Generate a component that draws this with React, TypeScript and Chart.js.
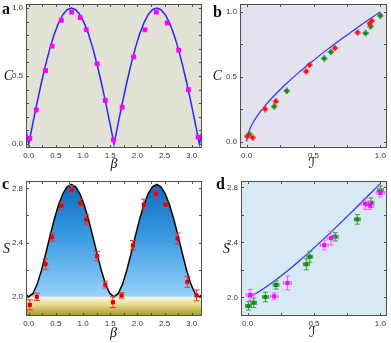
import React, { useEffect, useRef } from "react";
import { Chart, registerables } from "chart.js";

Chart.register(...registerables);

// ---------- theory curves vs beta (panels a, c) ----------
const BETA_GRID = [
  -0.0785, 0, 0.0785, 0.1571, 0.2356, 0.3142, 0.3927, 0.4712, 0.5498, 0.6283, 0.7069,
  0.7854, 0.8639, 0.9425, 1.021, 1.0996, 1.1781, 1.2566, 1.3352, 1.4137, 1.4923,
  1.5708, 1.6493, 1.7279, 1.8064, 1.885, 1.9635, 2.042, 2.1206, 2.1991, 2.2777,
  2.3562, 2.4347, 2.5133, 2.5918, 2.6704, 2.7489, 2.8274, 2.906, 2.9845, 3.0631,
  3.1416, 3.2201,
];
const C_THEORY = [
  0.1564, 0, 0.1564, 0.309, 0.454, 0.5878, 0.7071, 0.809, 0.891, 0.9511, 0.9877,
  1, 0.9877, 0.9511, 0.891, 0.809, 0.7071, 0.5878, 0.454, 0.309, 0.1564,
  0, 0.1564, 0.309, 0.454, 0.5878, 0.7071, 0.809, 0.891, 0.9511, 0.9877,
  1, 0.9877, 0.9511, 0.891, 0.809, 0.7071, 0.5878, 0.454, 0.309, 0.1564,
  0, 0.1564,
];
const S_THEORY = [
  2.0243, 2.0, 2.0243, 2.0933, 2.1965, 2.3199, 2.4495, 2.5726, 2.6787, 2.7601, 2.8111,
  2.8284, 2.8111, 2.7601, 2.6787, 2.5726, 2.4495, 2.3199, 2.1965, 2.0933, 2.0243,
  2.0, 2.0243, 2.0933, 2.1965, 2.3199, 2.4495, 2.5726, 2.6787, 2.7601, 2.8111,
  2.8284, 2.8111, 2.7601, 2.6787, 2.5726, 2.4495, 2.3199, 2.1965, 2.0933, 2.0243,
  2.0, 2.0243,
];

// ---------- theory curves vs I (panels b, d) ----------
const I_GRID = [0, 0.0015, 0.0114, 0.0252, 0.0454, 0.0808, 0.1414, 0.1944, 0.2864, 0.3843, 0.469, 0.6098, 0.7219, 0.8113, 0.8813, 0.9341, 0.971, 0.9928, 1];
const C_OF_I = [0, 0.02, 0.0632, 0.0999, 0.141, 0.199, 0.28, 0.341, 0.436, 0.527, 0.6, 0.714, 0.8, 0.866, 0.9165, 0.954, 0.98, 0.995, 1];
const S_OF_I = [2, 2.0004, 2.004, 2.01, 2.0198, 2.039, 2.077, 2.113, 2.182, 2.261, 2.332, 2.458, 2.561, 2.646, 2.713, 2.764, 2.8, 2.821, 2.828];

// ---------- panel a: measured C ----------
const A_BETA = [0.02, 0.14, 0.31, 0.43, 0.6, 0.79, 0.95, 1.06, 1.26, 1.41, 1.56, 1.72, 1.93, 2.14, 2.35, 2.55, 2.76, 2.94, 3.12];
const A_C = [0.04, 0.25, 0.54, 0.72, 0.91, 0.97, 0.93, 0.84, 0.59, 0.32, 0.03, 0.27, 0.64, 0.84, 0.97, 0.89, 0.69, 0.4, 0.05];

// ---------- panel c: measured S ----------
const C_BETA = [0.02, 0.15, 0.31, 0.43, 0.6, 0.79, 0.95, 1.06, 1.26, 1.41, 1.55, 1.71, 1.92, 2.12, 2.34, 2.52, 2.74, 2.92, 3.09];
const C_S = [1.94, 2.0, 2.24, 2.44, 2.67, 2.79, 2.69, 2.57, 2.3, 2.09, 1.96, 2.01, 2.38, 2.68, 2.76, 2.68, 2.43, 2.11, 2.01];
const C_S_ERR = [0.037, 0.027, 0.04, 0.03, 0.03, 0.03, 0.03, 0.035, 0.035, 0.025, 0.04, 0.02, 0.035, 0.04, 0.03, 0.02, 0.04, 0.04, 0.04];

// ---------- panel b: measured C vs I ----------
const B_RED_I = [0.005, 0.045, 0.138, 0.218, 0.445, 0.47, 0.66, 0.83, 0.92, 0.937];
const B_RED_C = [0.04, 0.03, 0.25, 0.31, 0.54, 0.59, 0.72, 0.84, 0.91, 0.93];
const B_GREEN_I = [0.02, 0.206, 0.3, 0.58, 0.63, 0.89, 0.927, 1.0];
const B_GREEN_C = [0.056, 0.27, 0.39, 0.64, 0.69, 0.835, 0.887, 0.97];

// ---------- panel d: measured S vs I ----------
const D_MAG_I = [0.02, 0.2, 0.3, 0.577, 0.628, 0.886, 0.921, 1.0];
const D_MAG_S = [2.017, 2.007, 2.104, 2.38, 2.43, 2.68, 2.67, 2.76];
const D_MAG_ERR = [0.04, 0.025, 0.05, 0.035, 0.05, 0.04, 0.03, 0.03];
const D_GRN_I = [0.006, 0.046, 0.134, 0.214, 0.442, 0.468, 0.66, 0.826, 0.929, 1.0];
const D_GRN_S = [1.937, 1.96, 2.002, 2.09, 2.24, 2.295, 2.44, 2.567, 2.688, 2.78];
const D_GRN_ERR = [0.03, 0.035, 0.035, 0.03, 0.04, 0.04, 0.03, 0.035, 0.035, 0.03];

// ---------- ticks ----------
const BETA_TICKS = [0, 0.25, 0.5, 0.75, 1, 1.25, 1.5, 1.75, 2, 2.25, 2.5, 2.75, 3];
const BETA_LABELS = [0, 0.5, 1, 1.5, 2, 2.5, 3];
const CA_TICKS = [0, 0.1, 0.2, 0.3, 0.4, 0.5, 0.6, 0.7, 0.8, 0.9, 1];
const CA_LABELS = [0, 0.5, 1];
const UNIT_TICKS = [0, 0.25, 0.5, 0.75, 1];
const UNIT_LABELS = [0, 0.5, 1];
const S_TICKS = [2, 2.2, 2.4, 2.6, 2.8];
const S_LABELS = [2, 2.4, 2.8];

const SERIF = '"Liberation Serif", "DejaVu Serif", serif';

function axis(min: number, max: number, ticks: number[], labels: number[], size: number, horizontal: boolean) {
  return {
    type: "linear",
    min,
    max,
    grid: { display: false, drawTicks: false },
    border: { display: false },
    ticks: {
      autoSkip: false,
      maxRotation: 0,
      minRotation: 0,
      padding: 3,
      color: "#333",
      font: { family: '"Liberation Sans", Arial, sans-serif', size: 8 },
      callback: (v: number) => (labels.includes(v) ? v.toFixed(1) : ""),
    },
    afterBuildTicks: (s: any) => {
      s.ticks = ticks.map((v) => ({ value: v }));
    },
    afterFit: (s: any) => {
      if (horizontal) s.height = size;
      else s.width = size;
      s.paddingLeft = 0;
      s.paddingRight = 0;
      s.paddingTop = 0;
      s.paddingBottom = 0;
    },
  };
}

const framePlugin = {
  id: "frame",
  beforeDraw(chart: any, _args: any, opts: any) {
    const { ctx, chartArea: a } = chart;
    if (opts && opts.bg) {
      ctx.save();
      ctx.fillStyle = opts.bg;
      ctx.fillRect(a.left, a.top, a.right - a.left, a.bottom - a.top);
      ctx.restore();
    }
  },
  beforeDatasetsDraw(chart: any, _args: any, opts: any) {
    if (!opts || !opts.band) return;
    const { ctx, chartArea: a, scales } = chart;
    const y0 = scales.y.getPixelForValue(opts.band);
    const g = ctx.createLinearGradient(0, y0, 0, a.bottom);
    g.addColorStop(0, "#fcf8de");
    g.addColorStop(0.45, "#e2d688");
    g.addColorStop(1, "#a29616");
    ctx.save();
    ctx.fillStyle = g;
    ctx.fillRect(a.left, y0, a.right - a.left, a.bottom - y0);
    ctx.restore();
  },
  afterDraw(chart: any) {
    const { ctx, chartArea: a, scales } = chart;
    ctx.save();
    ctx.strokeStyle = "#505050";
    ctx.lineWidth = 1;
    ctx.strokeRect(a.left + 0.5, a.top + 0.5, a.right - a.left - 1, a.bottom - a.top - 1);
    const L = 3;
    ctx.beginPath();
    for (const t of scales.x.ticks) {
      const px = Math.round(scales.x.getPixelForValue(t.value)) + 0.5;
      if (px <= a.left + 1 || px >= a.right - 1) continue;
      ctx.moveTo(px, a.bottom);
      ctx.lineTo(px, a.bottom - L);
      ctx.moveTo(px, a.top);
      ctx.lineTo(px, a.top + L);
    }
    for (const t of scales.y.ticks) {
      const py = Math.round(scales.y.getPixelForValue(t.value)) + 0.5;
      if (py <= a.top + 1 || py >= a.bottom - 1) continue;
      ctx.moveTo(a.left, py);
      ctx.lineTo(a.left + L, py);
      ctx.moveTo(a.right, py);
      ctx.lineTo(a.right - L, py);
    }
    ctx.stroke();
    ctx.restore();
  },
};

const errPlugin = {
  id: "errbars",
  beforeDatasetDraw(chart: any, args: any) {
    const ds: any = chart.data.datasets[args.index];
    if (ds.errY == null && ds.errX == null) return;
    const ctx = chart.ctx;
    const xs = chart.scales.x;
    const ys = chart.scales.y;
    const cap = ds.errCap || 0;
    ctx.save();
    ctx.strokeStyle = ds.errColor;
    ctx.lineWidth = ds.errWidth || 1;
    ctx.beginPath();
    ds.data.forEach((p: any, i: number) => {
      const px = xs.getPixelForValue(p.x);
      const py = ys.getPixelForValue(p.y);
      const ey = Array.isArray(ds.errY) ? ds.errY[i] : ds.errY || 0;
      const ex = Array.isArray(ds.errX) ? ds.errX[i] : ds.errX || 0;
      if (ey) {
        const y1 = ys.getPixelForValue(p.y - ey);
        const y2 = ys.getPixelForValue(p.y + ey);
        ctx.moveTo(px, y1);
        ctx.lineTo(px, y2);
        if (cap) {
          ctx.moveTo(px - cap, y1);
          ctx.lineTo(px + cap, y1);
          ctx.moveTo(px - cap, y2);
          ctx.lineTo(px + cap, y2);
        }
      }
      if (ex) {
        const x1 = xs.getPixelForValue(p.x - ex);
        const x2 = xs.getPixelForValue(p.x + ex);
        ctx.moveTo(x1, py);
        ctx.lineTo(x2, py);
        if (cap && ds.errCapX) {
          ctx.moveTo(x1, py - ds.errCapX);
          ctx.lineTo(x1, py + ds.errCapX);
          ctx.moveTo(x2, py - ds.errCapX);
          ctx.lineTo(x2, py + ds.errCapX);
        }
      }
    });
    ctx.stroke();
    ctx.restore();
  },
};

type Txt = { t: string; x: number; y: number; font: string; align?: CanvasTextAlign; base?: CanvasTextBaseline };

function textPlugin(id: string, texts: Txt[]) {
  return {
    id,
    afterDraw(chart: any) {
      const ctx = chart.ctx;
      ctx.save();
      ctx.fillStyle = "#111";
      for (const tx of texts) {
        ctx.font = tx.font;
        ctx.textAlign = tx.align || "center";
        ctx.textBaseline = tx.base || "middle";
        ctx.fillText(tx.t, tx.x, tx.y);
      }
      ctx.restore();
    },
  };
}

function pts(xs: number[], ys: number[]) {
  return xs.map((x, i) => ({ x, y: ys[i] }));
}

function baseOptions(pad: any, frame: any, xAxis: any, yAxis: any) {
  return {
    animation: false,
    responsive: false,
    devicePixelRatio: 1,
    events: [],
    layout: { padding: pad },
    plugins: { legend: { display: false }, tooltip: { enabled: false }, frame },
    scales: { x: xAxis, y: yAxis },
  };
}

function configA() {
  return {
    type: "line",
    data: {
      datasets: [
        { data: pts(A_BETA, A_C), showLine: false, pointStyle: "rect", pointRadius: 3.4, pointBorderWidth: 0, backgroundColor: "#ff00ff" },
        { data: pts(BETA_GRID, C_THEORY), pointRadius: 0, borderColor: "#2626ff", borderWidth: 1.5, tension: 0, fill: false },
      ],
    },
    options: baseOptions(
      { left: 0, top: 4, right: 1, bottom: 0 },
      { bg: "#e1e1d6" },
      axis(-0.05, 3.19, BETA_TICKS, BETA_LABELS, 24, true),
      axis(-0.03, 1.03, CA_TICKS, CA_LABELS, 26, false)
    ),
    plugins: [
      framePlugin,
      errPlugin,
      textPlugin("txtA", [
        { t: "a", x: 2, y: 13.5, font: `bold 16px ${SERIF}`, align: "left", base: "alphabetic" },
        { t: "C", x: 8.5, y: 76.5, font: `italic 14px ${SERIF}` },
        { t: "β", x: 114, y: 164, font: `italic 14px ${SERIF}` },
      ]),
    ],
  };
}

function configB() {
  return {
    type: "line",
    data: {
      datasets: [
        { data: pts(B_RED_I, B_RED_C), showLine: false, pointStyle: "rect", pointRadius: 2.6, pointBorderWidth: 0, backgroundColor: "#ff1010", errX: 0.024, errY: 0.026, errColor: "rgba(255,60,60,0.75)", errWidth: 2.2 },
        { data: pts(B_GREEN_I, B_GREEN_C), showLine: false, pointStyle: "rect", pointRadius: 2.6, pointBorderWidth: 0, backgroundColor: "#128a12", errX: 0.024, errY: 0.026, errColor: "rgba(40,150,40,0.75)", errWidth: 2.2 },
        { data: pts(I_GRID, C_OF_I), pointRadius: 0, borderColor: "#3030ff", borderWidth: 1.2, cubicInterpolationMode: "monotone", fill: false },
      ],
    },
    options: baseOptions(
      { left: 0, top: 4, right: 4, bottom: 0 },
      { bg: "#e3e3ef" },
      axis(-0.05, 1.05, UNIT_TICKS, UNIT_LABELS, 24, true),
      axis(-0.05, 1.06, UNIT_TICKS, UNIT_LABELS, 34, false)
    ),
    plugins: [
      framePlugin,
      errPlugin,
      textPlugin("txtB", [
        { t: "b", x: 7, y: 17, font: `bold 16px ${SERIF}`, align: "left", base: "alphabetic" },
        { t: "C", x: 11.5, y: 76.5, font: `italic 14px ${SERIF}` },
        { t: "ℐ", x: 106, y: 164.5, font: `15px "DejaVu Serif", "DejaVu Sans", serif` },
      ]),
    ],
  };
}

function configC() {
  return {
    type: "line",
    data: {
      datasets: [
        { data: pts(C_BETA, C_S), showLine: false, pointStyle: "rect", pointRadius: 2.9, pointBorderWidth: 0, backgroundColor: "#e80000", errY: C_S_ERR, errCap: 3, errColor: "#f03030", errWidth: 1 },
        {
          data: pts(BETA_GRID, S_THEORY),
          pointRadius: 0,
          borderColor: "#000",
          borderWidth: 1.5,
          tension: 0,
          fill: { value: 2.0 },
          backgroundColor: (ctx: any) => {
            const ch = ctx.chart;
            if (!ch.chartArea) return "rgba(0,0,0,0)";
            const ys = ch.scales.y;
            const g = ch.ctx.createLinearGradient(0, ys.getPixelForValue(2.83), 0, ys.getPixelForValue(2.0));
            g.addColorStop(0, "#0a6cc2");
            g.addColorStop(0.5, "#3f9de3");
            g.addColorStop(1, "#96d3f9");
            return g;
          },
        },
      ],
    },
    options: baseOptions(
      { left: 0, top: 9, right: 1, bottom: 0 },
      { bg: "#ffffff", band: 2.0 },
      axis(-0.05, 3.19, BETA_TICKS, BETA_LABELS, 27, true),
      axis(1.858, 2.854, S_TICKS, S_LABELS, 26, false)
    ),
    plugins: [
      framePlugin,
      errPlugin,
      textPlugin("txtC", [
        { t: "c", x: 2, y: 16.5, font: `bold 16px ${SERIF}`, align: "left", base: "alphabetic" },
        { t: "S", x: 6.5, y: 77, font: `italic 14px ${SERIF}` },
        { t: "β", x: 113.5, y: 161, font: `italic 14px ${SERIF}` },
      ]),
    ],
  };
}

function configD() {
  return {
    type: "line",
    data: {
      datasets: [
        { data: pts(D_MAG_I, D_MAG_S), showLine: false, pointStyle: "rect", pointRadius: 2.9, pointBorderWidth: 0, backgroundColor: "#ff00ff", errY: D_MAG_ERR, errX: 0.03, errCap: 2.5, errCapX: 2, errColor: "#ff55ff", errWidth: 1 },
        { data: pts(D_GRN_I, D_GRN_S), showLine: false, pointStyle: "rect", pointRadius: 2.9, pointBorderWidth: 0, backgroundColor: "#128a12", errY: D_GRN_ERR, errX: 0.022, errCap: 2.5, errCapX: 2, errColor: "#3a9e3a", errWidth: 1 },
        { data: pts(I_GRID, S_OF_I), pointRadius: 0, borderColor: "#3030ee", borderWidth: 1.2, cubicInterpolationMode: "monotone", fill: false },
      ],
    },
    options: baseOptions(
      { left: 0, top: 9, right: 4, bottom: 0 },
      { bg: "#d7e9f2" },
      axis(-0.05, 1.05, UNIT_TICKS, UNIT_LABELS, 27, true),
      axis(1.864, 2.846, S_TICKS, S_LABELS, 35, false)
    ),
    plugins: [
      framePlugin,
      errPlugin,
      textPlugin("txtD", [
        { t: "d", x: 10, y: 16.5, font: `bold 16px ${SERIF}`, align: "left", base: "alphabetic" },
        { t: "S", x: 20.5, y: 77, font: `italic 14px ${SERIF}` },
        { t: "ℐ", x: 106.5, y: 161.5, font: `15px "DejaVu Serif", "DejaVu Sans", serif` },
      ]),
    ],
  };
}

function Panel({ left, top, width, height, make }: { left: number; top: number; width: number; height: number; make: () => any }) {
  const ref = useRef<HTMLCanvasElement>(null);
  useEffect(() => {
    const chart = new Chart(ref.current as HTMLCanvasElement, make());
    return () => chart.destroy();
  }, []);
  return (
    <canvas
      ref={ref}
      width={width}
      height={height}
      style={{ position: "absolute", left, top, width, height, display: "block" }}
    />
  );
}

export default function App() {
  return (
    <div style={{ position: "absolute", left: 0, top: 0, width: 391, height: 343, background: "#fff", overflow: "hidden" }}>
      <Panel left={0} top={0} width={206} height={172} make={configA} />
      <Panel left={206} top={0} width={185} height={172} make={configB} />
      <Panel left={0} top={172} width={206} height={171} make={configC} />
      <Panel left={206} top={172} width={185} height={171} make={configD} />
    </div>
  );
}
